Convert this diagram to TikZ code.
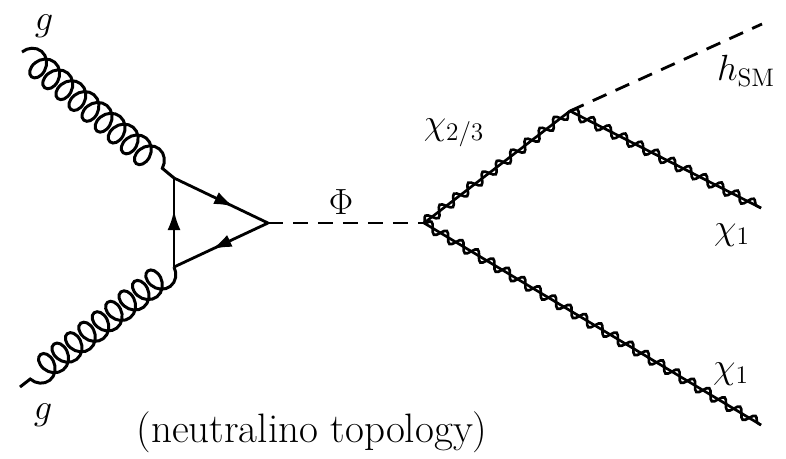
\documentclass[tikz,border=0pt]{standalone}
\usepackage{tikz}
\usetikzlibrary{
  arrows.meta,
  decorations.pathmorphing,
  decorations.markings
}

\begin{document}
\begin{tikzpicture}[
  x=0.02cm, y=-0.02cm,
  every node/.style={font=\fontsize{22.5}{27}\selectfont},
  gluon/.style={line width=1.7pt, decorate, decoration={coil, amplitude=0.26cm, segment length=0.34cm, aspect=0.8}},
  fermion/.style={line width=1.6pt, postaction={decorate}, decoration={markings, mark=at position #1 with {\arrow{Latex[length=0.4cm, width=0.26cm]}}}},
  scalar/.style={line width=1.6pt, dash pattern=on 0.3cm off 0.2cm},
  gaugino/.style={line width=1.5pt, postaction={draw, decorate, decoration={snake, amplitude=0.1cm, segment length=0.36cm}}}
]
  \useasboundingbox (0,0) rectangle (786,458);

  \coordinate (gin1) at (22,52);
  \coordinate (gin2) at (20,387);
  \coordinate (top) at (174,178);
  \coordinate (bot) at (174,267);
  \coordinate (tip) at (268,223);
  \coordinate (split) at (424,223);
  \coordinate (decay) at (570,111);
  \coordinate (hout) at (762,24);
  \coordinate (chiA) at (761,208);
  \coordinate (chiB) at (761,425);

  \draw[gluon] (gin1) -- (top);
  \draw[gluon] (bot) -- (gin2);

  \draw[fermion=0.64] (top) -- (tip);
  \draw[fermion=0.6] (tip) -- (bot);
  \draw[fermion=0.64] (bot) -- (top);

  \draw[scalar] (tip) -- (split);
  \draw[gaugino] (split) -- (decay);
  \draw[gaugino] (split) -- (chiB);
  \draw[gaugino] (decay) -- (chiA);
  \draw[scalar] (decay) -- (hout);

  \node (glab1) at (44,26) {$g$};
  \node (glab2) at (43,415) {$g$};
  \node (philab) at (341,202) {$\Phi$};
  \node (chilab) at (454,133) {$\chi_{2/3}$};
  \node (hlab) at (746,71) {$h_{\mathrm{SM}}$};
  \node (chi1a) at (732,235) {$\chi_1$};
  \node (chi1b) at (731,374) {$\chi_1$};
  \node[font=\fontsize{23.4}{28}\selectfont] (topo) at (312,432) {(neutralino topology)};
\end{tikzpicture}
\end{document}
